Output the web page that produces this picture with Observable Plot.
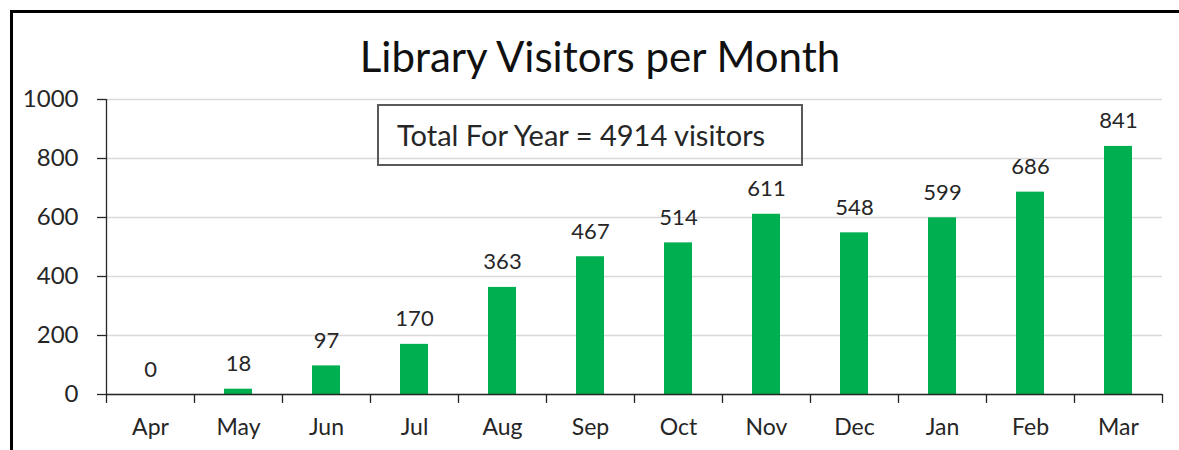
<!DOCTYPE html>
<html>
<head>
<meta charset="utf-8">
<script src="https://cdn.jsdelivr.net/npm/d3@7"></script>
<script src="https://cdn.jsdelivr.net/npm/@observablehq/plot@0.6"></script>
<style>
  html, body { margin: 0; padding: 0; background: #fff; }
  #wrap { position: relative; width: 1179px; height: 450px; overflow: hidden; font-family: Lato, "Open Sans", sans-serif; color: #262626; }
  #frame { position: absolute; left: 10px; top: 10px; width: 1400px; height: 700px; border-left: 3px solid #000; border-top: 3px solid #000; }
  #title { position: absolute; left: 0; width: 1200px; top: 33px; text-align: center; font-size: 42px; line-height: 46px; color: #111; white-space: nowrap; }
  #note { position: absolute; left: 377px; top: 104px; width: 422px; height: 58px; border: 2px solid #595959; box-sizing: content-box; }
  #note span { position: absolute; left: 18px; top: 12px; font-size: 29px; line-height: 1.2; white-space: nowrap; }
  #chart { position: absolute; left: 0; top: 0; }
</style>
</head>
<body>
<div id="wrap">
  <div id="chart"></div>
  <div id="frame"></div>
  <div id="title"></div>
  <div id="note"><span></span></div>
</div>
<script>
const titleText = "Library Visitors per Month";
const noteText = "Total For Year = 4914 visitors";
const months = ["Apr", "May", "Jun", "Jul", "Aug", "Sep", "Oct", "Nov", "Dec", "Jan", "Feb", "Mar"];
const visitors = [0, 18, 97, 170, 363, 467, 514, 611, 548, 599, 686, 841];
const yTicks = [0, 200, 400, 600, 800, 1000];

const data = months.map((m, i) => ({month: m, visitors: visitors[i]}));

const W = 1179, H = 450;
const mL = 106, mR = 17, mT = 99, mB = 56;
const bw = (W - mL - mR) / months.length;
const axisColor = "#262626";
const textColor = "#262626";

document.getElementById("title").textContent = titleText;
document.querySelector("#note span").textContent = noteText;

const chart = Plot.plot({
  width: W,
  height: H,
  marginLeft: mL,
  marginRight: mR,
  marginTop: mT,
  marginBottom: mB,
  style: {fontFamily: "Lato, 'Open Sans', sans-serif", background: "transparent", overflow: "visible"},
  x: {domain: months, paddingInner: 0.68, paddingOuter: 0.34, align: 0.5, axis: null, label: null},
  y: {domain: [0, 1000], axis: null, label: null},
  marks: [
    Plot.gridY(yTicks, {stroke: "#d9d9d9", strokeOpacity: 1, strokeWidth: 1.3}),
    Plot.barY(data, {x: "month", y: "visitors", fill: "#00B050"}),
    Plot.ruleY([0], {stroke: axisColor, strokeWidth: 1.3}),
    Plot.ruleX([months[0]], {dx: -bw / 2, stroke: axisColor, strokeWidth: 1.3}),
    Plot.axisY({ticks: yTicks, tickFormat: d => String(d), label: null, tickSize: 9, tickPadding: 19, fontSize: 24, color: textColor, stroke: axisColor, strokeWidth: 1.3}),
    Plot.axisX({tickSize: 9, tickFormat: () => "", label: null, dx: -bw / 2, stroke: axisColor, strokeWidth: 1.3}),
    Plot.axisX({ticks: [months[months.length - 1]], tickSize: 9, tickFormat: () => "", label: null, dx: bw / 2, stroke: axisColor, strokeWidth: 1.3}),
    Plot.text(months, {x: d => d, frameAnchor: "bottom", dy: 40, fontSize: 23, fill: textColor}),
    Plot.text(data, {x: "month", y: "visitors", text: d => String(d.visitors), dy: -25, fontSize: 22, fill: textColor})
  ]
});
document.getElementById("chart").appendChild(chart);
</script>
</body>
</html>
